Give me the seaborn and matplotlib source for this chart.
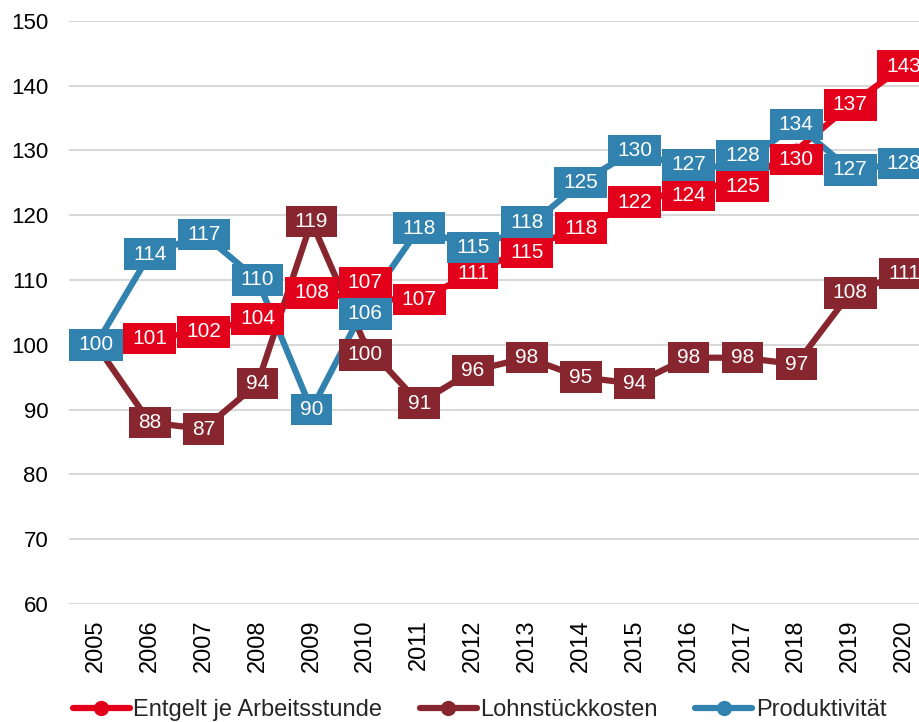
import matplotlib
matplotlib.use("Agg")
import matplotlib.pyplot as plt
from matplotlib.path import Path
from matplotlib.lines import Line2D
import seaborn as sns
import pandas as pd

years = [2005, 2006, 2007, 2008, 2009, 2010, 2011, 2012, 2013, 2014, 2015, 2016, 2017, 2018, 2019, 2020]
entgelt = [100, 101, 102, 104, 108, 107, 107, 111, 115, 118, 122, 124, 125, 130, 137, 143]
lohnstueck = [100, 88, 87, 94, 119, 100, 91, 96, 98, 95, 94, 98, 98, 97, 108, 111]
produktiv = [100, 114, 117, 110, 90, 106, 118, 115, 118, 125, 130, 127, 128, 134, 127, 128]
series_names = ["Entgelt je Arbeitsstunde", "Lohnstückkosten", "Produktivität"]
colors = ["#E3001B", "#882630", "#3182AE"]
yticks = [60, 70, 80, 90, 100, 110, 120, 130, 140, 150]

# label nudges (pixels, + = up) to keep boxes from overlapping, per series index
label_nudge = [
    {5: 17, 8: -5, 11: -6, 12: -4, 13: -9},
    {5: -10},
    {5: -8, 8: 6, 11: 5, 12: 8},
]

sns.set_theme(style="white")
plt.rcParams['font.family'] = ['Liberation Sans', 'DejaVu Sans']

rows = []
for name, vals in zip(series_names, [entgelt, lohnstueck, produktiv]):
    for i, (y, v) in enumerate(zip(years, vals)):
        rows.append({"idx": i, "year": y, "value": v, "series": name})
df = pd.DataFrame(rows)

fig = plt.figure(figsize=(9.2, 7.22), dpi=100)
ax = fig.add_axes([69/920, 1-604/722, (931-69)/920, (604-20.7)/722])

sns.lineplot(data=df, x="idx", y="value", hue="series", hue_order=series_names,
             palette=colors, marker="o", markersize=10, markeredgewidth=0,
             linewidth=4.5, ax=ax, legend=False, zorder=3)


def label_box(x0, y0, width, height, mutation_size):
    px = 0.44 * mutation_size
    py = 0.30 * mutation_size
    x0 -= px
    y0 -= py
    x1 = x0 + width + 2 * px
    y1 = y0 + height + 2 * py
    return Path([(x0, y0), (x1, y0), (x1, y1), (x0, y1), (x0, y0)],
                [Path.MOVETO, Path.LINETO, Path.LINETO, Path.LINETO, Path.CLOSEPOLY])


for k, (name, vals) in enumerate(zip(series_names, [entgelt, lohnstueck, produktiv])):
    for i, v in enumerate(vals):
        dy = label_nudge[k].get(i, 0) * 72 / 100
        ax.annotate(str(v), (i, v), xytext=(0, dy), textcoords="offset points",
                    ha="center", va="center", color="white",
                    fontsize=15, zorder=10 + k, annotation_clip=False,
                    bbox=dict(boxstyle=label_box, fc=colors[k], ec="none"))

ax.set_xlim(-0.5, len(years) - 0.5)
ax.set_ylim(60, 150)
ax.set_yticks(yticks)
ax.set_yticklabels([str(t) for t in yticks], fontsize=16, color="#000000")
ax.set_xticks(range(len(years)))
ax.set_xticklabels([str(y) for y in years], rotation=90, fontsize=17, color="#000000")
ax.tick_params(axis="both", length=0)
ax.tick_params(axis="x", pad=11)
ax.tick_params(axis="y", pad=15)
ax.grid(axis="y", color="#D9D9D9", linewidth=1.5)
ax.set_axisbelow(True)
for s in ax.spines.values():
    s.set_visible(False)
ax.set_xlabel("")
ax.set_ylabel("")

handles = [Line2D([0], [0], color=c, linewidth=4.5, marker="o", markersize=11, markeredgewidth=0)
           for c in colors]
fig.legend(handles, series_names, loc="center left", bbox_to_anchor=(73/920, 1-710/722),
           ncol=3, frameon=False, fontsize=17, handlelength=2.4, handletextpad=0.15,
           columnspacing=1.6, borderpad=0, borderaxespad=0)

fig.savefig("out.png", dpi=100)
